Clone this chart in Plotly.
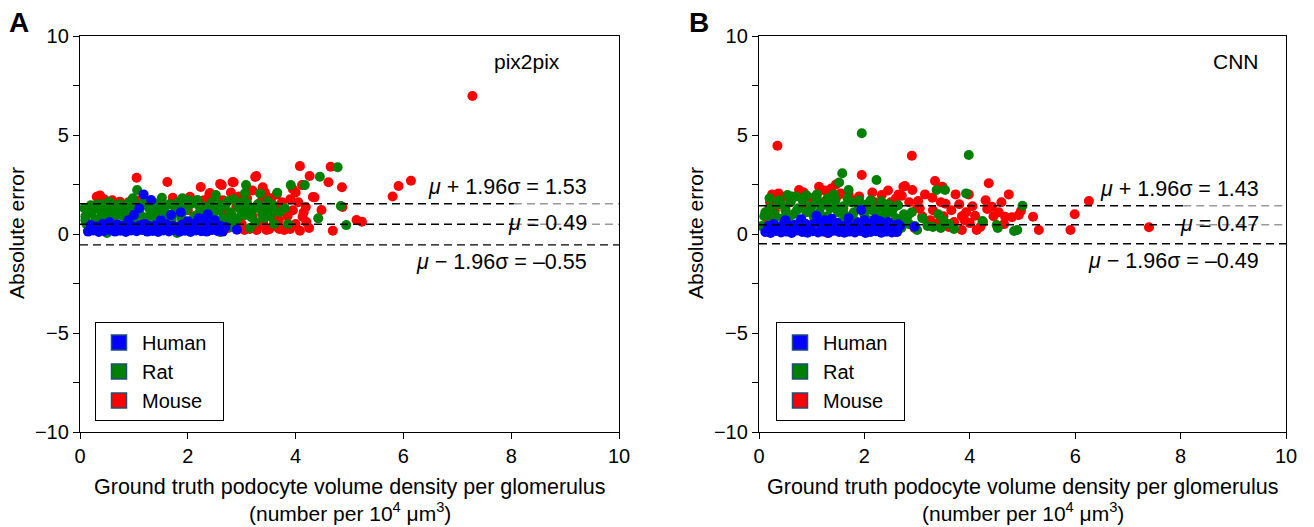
import plotly.graph_objects as go

# ---------------- data ----------------
species = ["Human", "Rat", "Mouse"]
colors = {"Human": "#0000ff", "Rat": "#008000", "Mouse": "#ff0000"}

# Panel A : pix2pix
a_human_x = [0.15,0.25,0.35,0.45,0.55,0.65,0.75,0.85,0.95,1.05,1.15,1.25,1.35,1.45,1.55,1.65,1.75,1.85,1.95,2.05,2.15,2.25,2.35,2.45,2.55,2.65,
             0.2,0.3,0.42,0.5,0.62,0.7,0.8,0.9,1.0,1.12,1.2,1.3,1.4,1.5,1.6,1.72,1.8,1.9,2.0,2.1,2.2,2.3,2.4,2.5,2.6,2.7,
             1.18,1.32,1.1,1.0,1.69,1.87,2.37,2.31,2.2,2.63,2.91,2.5,0.9,1.5,2.0,0.55]
a_human_y = [0.12,0.18,0.1,0.15,0.2,0.12,0.16,0.1,0.18,0.14,0.2,0.12,0.15,0.1,0.18,0.13,0.2,0.12,0.16,0.1,0.18,0.14,0.12,0.2,0.15,0.12,
             0.45,0.38,0.5,0.42,0.35,0.48,0.4,0.52,0.36,0.46,0.5,0.4,0.44,0.38,0.5,0.42,0.36,0.48,0.4,0.5,0.44,0.38,0.46,0.52,0.4,0.35,
             2.0,1.72,1.3,0.96,0.96,1.1,1.0,0.76,0.8,0.37,0.22,0.7,0.7,0.7,0.65,0.6]

a_rat_x = [0.08,0.1,0.12,0.2,0.22,0.28,0.32,0.38,0.42,0.48,0.54,0.58,0.62,0.7,0.75,0.8,0.86,0.92,0.98,1.06,1.0,1.1,1.15,1.22,1.28,1.35,1.42,1.52,1.48,1.58,
           1.62,1.7,1.76,1.82,1.9,1.88,1.96,2.05,2.1,2.18,2.22,2.3,2.38,2.45,2.52,2.58,2.65,2.7,2.78,2.85,2.9,2.95,3.0,3.06,3.08,3.05,3.12,3.2,3.25,3.3,
           3.34,3.38,3.45,3.52,3.58,3.66,3.6,3.7,3.86,3.91,3.8,4.17,4.42,4.45,4.78,4.84,4.94,0.3,0.7,1.2,1.6,2.0,2.4,2.8,3.15,0.15,0.5,1.8,2.6,
           0.1,0.4,0.9,1.4,1.9,2.3,2.75,3.4,0.6,1.3,2.15,3.0,
           0.18,0.35,0.52,0.68,0.84,1.02,1.18,1.33,1.55,1.72,1.92,2.12,2.28,2.48,2.62,2.82,3.02,3.18,3.36,3.55,
           0.26,0.44,0.64,0.9,1.08,1.26,1.44,1.66,1.84,2.02,2.2,2.42,2.56,2.74,2.92,3.1,3.28,3.48]
a_rat_y = [1.3,0.9,0.5,1.45,1.1,0.7,1.5,1.2,0.85,1.4,1.63,1.0,0.6,1.3,1.5,0.9,1.15,1.45,1.8,2.22,0.75,1.05,1.55,0.6,1.3,0.9,1.2,1.83,0.5,1.4,
           1.0,0.7,1.35,1.6,1.8,0.85,1.2,1.5,0.6,1.72,1.1,1.4,0.9,1.6,1.97,1.2,0.8,1.5,1.1,1.75,0.7,1.3,1.6,2.05,2.47,0.95,1.4,1.2,0.6,1.5,
           2.05,1.0,1.3,0.9,1.45,2.08,0.5,1.1,0.5,2.47,1.3,2.47,0.79,2.89,3.37,1.41,0.45,0.3,0.25,0.2,0.25,0.3,0.2,0.35,0.3,0.15,0.05,0.05,0.1,
           0.7,1.0,0.95,1.0,0.65,0.75,0.6,0.8,1.1,0.95,0.9,1.0,
           1.05,0.75,1.2,0.95,1.3,1.1,0.85,1.45,1.15,1.0,1.3,0.9,1.2,1.05,1.35,0.95,1.15,0.85,1.25,1.1,
           1.4,1.5,1.45,1.55,1.35,1.6,1.55,1.5,1.4,1.7,1.45,1.3,1.5,1.65,1.45,1.55,1.4,1.65]

a_mouse_x = [0.31,0.37,0.45,0.74,0.6,1.05,1.41,1.62,1.72,2.04,2.24,2.4,2.41,2.6,2.63,2.83,2.85,3.27,3.25,3.39,3.43,3.52,3.51,3.46,3.28,3.69,3.71,3.79,3.9,3.95,
             4.08,4.12,4.13,4.08,4.19,4.26,4.32,4.35,4.48,4.61,4.65,4.69,4.86,4.87,5.13,5.23,5.8,5.91,6.14,7.28,
             2.7,2.9,3.0,3.1,3.2,3.35,3.4,3.55,3.6,3.65,3.75,3.85,3.95,4.0,4.05,2.55,2.75,3.05,3.15,3.7,3.9,4.2,4.25,
             0.5,1.3,2.0,2.2,1.9,0.9,1.5,2.3,2.5,1.1,
             2.65,2.95,3.2,3.45,3.65,3.85,4.0,4.15,3.3,3.6,2.8,3.05]
a_mouse_y = [1.88,1.95,1.75,1.63,1.7,2.84,1.43,2.63,1.83,1.88,2.37,2.0,2.07,2.53,2.47,2.63,2.61,2.93,2.88,2.36,2.09,1.21,0.24,0.2,0.2,0.71,1.46,0.2,1.75,2.26,
             3.43,2.47,0.87,0.17,1.36,2.93,1.87,1.85,1.21,2.61,3.4,0.17,2.36,1.36,0.71,0.62,1.89,2.42,2.69,6.97,
             1.0,1.4,0.5,1.8,0.9,1.6,0.6,1.8,1.1,0.35,1.6,0.9,1.2,0.5,1.6,0.2,0.3,0.2,0.25,0.25,0.25,0.6,0.3,
             1.3,1.5,1.2,0.2,0.3,1.6,1.6,1.7,1.3,1.7,
             1.7,1.9,2.2,1.9,2.0,1.0,2.1,1.1,0.4,0.7,2.1,1.25]

# Panel B : CNN
b_human_x = [0.12,0.22,0.32,0.42,0.52,0.62,0.72,0.82,0.92,1.02,1.12,1.22,1.32,1.42,1.52,1.62,1.72,1.82,1.92,2.02,2.12,2.22,2.32,2.42,2.52,2.62,
             0.18,0.28,0.38,0.48,0.58,0.68,0.78,0.88,0.98,1.08,1.18,1.28,1.38,1.48,1.58,1.68,1.78,1.88,1.98,2.08,2.18,2.28,2.38,2.48,2.58,2.68,
             1.94,1.09,1.38,1.7,2.0,2.2,2.45,0.5,0.8,2.64,2.95,1.25,2.3]
b_human_y = [0.1,0.05,0.15,0.08,0.12,0.05,0.18,0.1,0.06,0.14,0.08,0.12,0.05,0.16,0.1,0.06,0.12,0.08,0.15,0.05,0.1,0.14,0.06,0.12,0.08,0.1,
             0.4,0.5,0.35,0.55,0.42,0.48,0.36,0.52,0.44,0.6,0.38,0.5,0.45,0.56,0.4,0.48,0.35,0.58,0.42,0.5,0.46,0.55,0.38,0.5,0.44,0.4,
             1.21,0.92,0.77,0.8,0.7,0.75,0.6,0.7,0.75,0.49,0.37,0.7,0.65]

b_rat_x = [1.95,1.58,1.52,2.23,0.54,0.7,0.9,1.1,1.3,1.7,1.9,2.1,3.98,3.37,3.53,3.93,5.0,4.24,4.51,4.53,4.84,4.9,3.4,3.1,3.2,3.45,3.6,3.7,2.8,2.9,
           0.05,0.1,0.15,0.2,0.25,0.3,0.35,0.4,0.45,0.5,0.55,0.6,0.65,0.7,0.75,0.8,0.85,0.9,0.95,1.0,1.05,1.1,1.15,1.2,1.25,1.3,1.35,1.4,1.45,1.5,
           1.55,1.6,1.65,1.7,1.75,1.8,1.85,1.9,1.95,2.0,2.05,2.1,2.15,2.2,2.25,2.3,2.35,2.4,2.5,2.55,2.6,2.7,2.75,2.85,3.0,3.3,3.5,
           0.12,0.28,0.42,0.58,0.72,0.88,1.02,1.18,1.32,1.48,1.62,1.78,1.92,2.08,2.22,2.38,2.52,2.68,2.82,2.96,
           0.2,0.38,0.62,0.82,1.08,1.28,1.42,1.68,1.88,2.12,2.32,2.46,2.64]
b_rat_y = [5.09,3.07,2.6,2.73,1.97,1.9,1.95,2.0,1.8,2.22,1.7,1.5,3.99,2.22,2.22,2.05,1.43,0.66,0.45,0.3,0.15,0.2,1.0,0.8,0.4,0.3,0.5,0.25,0.6,1.1,
           0.4,0.9,0.2,1.3,0.6,1.0,1.5,0.3,0.8,1.2,0.5,1.6,1.0,0.3,1.3,0.7,1.6,1.1,0.4,1.4,0.8,1.7,1.1,0.5,1.5,0.9,1.3,0.3,1.7,1.1,
           0.6,1.4,0.9,0.4,1.6,1.1,0.6,1.3,0.2,1.0,1.5,0.5,1.2,0.3,0.9,1.4,0.6,1.1,0.4,1.3,0.8,0.3,1.0,0.5,0.2,0.35,0.7,
           1.1,0.7,1.5,0.9,1.2,0.5,1.0,1.4,0.7,1.3,1.0,0.8,1.5,0.7,1.2,0.9,1.1,0.6,0.9,0.4,
           1.8,1.7,1.9,1.75,1.85,1.6,2.0,1.8,1.55,1.7,1.65,1.5,1.45]

b_mouse_x = [0.35,1.95,1.14,0.76,0.37,0.21,0.15,1.37,1.46,1.5,1.8,2.33,2.74,2.6,2.5,2.9,3.34,2.77,2.91,3.48,3.73,4.36,4.74,3.98,2.71,3.02,3.29,3.54,4.42,4.33,
             3.93,4.1,4.67,4.8,4.93,4.97,5.2,5.31,4.13,4.2,3.85,3.7,3.6,3.4,3.2,6.26,5.99,5.91,7.4,0.5,0.9,1.2,1.6,2.0,2.2,2.4,0.3,1.0,1.7,0.6,
             3.0,3.1,3.3,3.5,3.8,3.9,2.95,2.6,1.3,2.0,0.9,4.0,4.55,
             0.25,0.45,0.85,1.25,1.55,1.9,2.15,2.45,2.65,2.85,3.05,3.25,3.45,3.65,3.85,4.05,4.25,4.45,4.65,3.15,3.6,4.3,4.6]
b_mouse_y = [4.46,2.98,2.39,2.22,2.05,1.6,0.8,2.3,2.5,1.95,1.7,1.97,2.39,1.8,1.6,3.95,2.68,2.42,2.22,2.39,2.0,2.56,2.0,2.0,1.93,1.67,1.83,1.53,1.38,1.26,
             1.1,0.92,0.87,0.85,0.96,1.16,0.87,0.2,0.2,0.35,0.2,0.6,0.35,0.55,0.5,1.67,1.0,0.2,0.34,1.3,1.5,1.6,1.3,1.2,1.6,0.9,1.2,1.8,2.0,1.7,
             1.3,0.9,1.2,0.9,1.5,0.7,0.3,0.1,0.05,0.1,0.1,0.55,1.1,
             2.0,1.85,2.1,2.2,2.05,1.9,2.1,2.2,2.0,1.6,1.3,0.7,1.6,1.2,0.9,1.4,0.6,0.9,0.5,2.0,0.4,1.7,1.6]

# limits of agreement (as printed)
a_stats = {"upper": 1.53, "mean": 0.49, "lower": -0.55}
b_stats = {"upper": 1.43, "mean": 0.47, "lower": -0.49}
panel_titles = ["pix2pix", "CNN"]
panel_letters = ["A", "B"]

# ---------------- figure ----------------
W, H = 1314, 527
FONT = "Liberation Sans, Arial, Helvetica, sans-serif"
fig = go.Figure()

panels = [
    {"xa": "x", "ya": "y", "leg": "legend",
     "data": {"Mouse": (a_mouse_x, a_mouse_y), "Rat": (a_rat_x, a_rat_y), "Human": (a_human_x, a_human_y)},
     "stats": a_stats},
    {"xa": "x2", "ya": "y2", "leg": "legend2",
     "data": {"Mouse": (b_mouse_x, b_mouse_y), "Rat": (b_rat_x, b_rat_y), "Human": (b_human_x, b_human_y)},
     "stats": b_stats},
]

for p in panels:
    for sp in ["Mouse", "Rat", "Human"]:
        xs, ys = p["data"][sp]
        fig.add_trace(go.Scatter(x=xs, y=ys, mode="markers", xaxis=p["xa"], yaxis=p["ya"],
                                 marker=dict(color=colors[sp], size=10, line=dict(width=0)),
                                 showlegend=False, hoverinfo="x+y"))
    for sp in species:
        fig.add_trace(go.Scatter(x=[None], y=[None], mode="markers", xaxis=p["xa"], yaxis=p["ya"],
                                 name=sp + "\u00a0\u00a0", legend=p["leg"], legendgroup=p["leg"] + sp,
                                 marker=dict(color=colors[sp], size=15, symbol="square",
                                             line=dict(color="#1f4e79", width=1.5))))

x_dom = [[80 / W, 619 / W], [759 / W, 1286 / W]]
y_dom = [1 - 432 / H, 1 - 36 / H]

axis_common = dict(showgrid=False, zeroline=False, showline=True, linecolor="black", linewidth=1.3,
                   mirror=True, ticks="outside", ticklen=6, tickwidth=1.3, tickcolor="black",
                   automargin=False,
                   tickfont=dict(family=FONT, size=20, color="black"))
for i, suffix in enumerate(["", "2"]):
    fig.layout["xaxis" + suffix] = dict(axis_common, domain=x_dom[i], range=[0, 10],
                                        tick0=0, dtick=2, anchor="y" + suffix)
    fig.layout["yaxis" + suffix] = dict(axis_common, domain=y_dom, range=[-10, 10],
                                        tick0=0, dtick=5, anchor="x" + suffix,
                                        minor=dict(tick0=0, dtick=2.5, ticks="outside", ticklen=6,
                                                   tickwidth=1.3, tickcolor="black", showgrid=False))

shapes, annots = [], []
xcenters = [349.5, 1022.5]
ytitle_x = [16, 695]
letter_x = [19, 699]
label_right = [9.45, 9.52]
for i, p in enumerate(panels):
    st = p["stats"]
    xr, yr = p["xa"], p["ya"]
    for key in ["upper", "mean"]:
        shapes.append(dict(type="line", xref=xr, yref=yr, x0=0, x1=8.05, y0=st[key], y1=st[key],
                           line=dict(color="black", width=1.4, dash="8px,5px")))
        shapes.append(dict(type="line", xref=xr, yref=yr, x0=8.05, x1=10, y0=st[key], y1=st[key],
                           line=dict(color="#9a9a9a", width=1.4, dash="8px,5px")))
    shapes.append(dict(type="line", xref=xr, yref=yr, x0=0, x1=10, y0=st["lower"], y1=st["lower"],
                       line=dict(color="black", width=1.4, dash="8px,5px")))

    def fmt(v):
        return ("\u2013" if v < 0 else "") + f"{abs(v):.2f}"

    lab_font = dict(family=FONT, size=21.5, color="black")
    annots.append(dict(xref=xr, yref=yr, x=label_right[i], y=st["upper"] + 0.84, xanchor="right", yanchor="middle",
                       text=f"<i>\u03bc</i> + 1.96\u03c3 = {fmt(st['upper'])}", showarrow=False, font=lab_font))
    annots.append(dict(xref=xr, yref=yr, x=label_right[i], y=st["mean"] + 0.05, xanchor="right", yanchor="middle",
                       text=f"<i>\u03bc</i> = {fmt(st['mean'])}", showarrow=False, font=lab_font))
    annots.append(dict(xref=xr, yref=yr, x=label_right[i], y=st["lower"] - 0.88, xanchor="right", yanchor="middle",
                       text=f"<i>\u03bc</i> \u2212 1.96\u03c3 = {fmt(st['lower'])}", showarrow=False, font=lab_font))
    annots.append(dict(xref=xr, yref=yr, x=label_right[i] if i == 1 else 8.95, y=8.7, xanchor="right", yanchor="middle",
                       text=panel_titles[i], showarrow=False, font=dict(family=FONT, size=21, color="black")))
    # panel letter
    annots.append(dict(xref="paper", yref="paper", x=letter_x[i] / W, y=1 - 22 / H, xanchor="center", yanchor="middle",
                       text=f"<b>{panel_letters[i]}</b>", showarrow=False,
                       font=dict(family=FONT, size=28, color="black")))
    # y title
    annots.append(dict(xref="paper", yref="paper", x=ytitle_x[i] / W, y=1 - 233 / H, xanchor="center", yanchor="middle",
                       text="Absolute error", textangle=-90, showarrow=False,
                       font=dict(family=FONT, size=21, color="black")))
    # x title (two lines)
    annots.append(dict(xref="paper", yref="paper", x=xcenters[i] / W, y=1 - 501 / H, xanchor="center", yanchor="bottom",
                       text="Ground truth podocyte volume density per glomerulus", showarrow=False,
                       font=dict(family=FONT, size=21.5, color="black")))
    annots.append(dict(xref="paper", yref="paper", x=xcenters[i] / W, y=0.0, xanchor="center", yanchor="bottom",
                       text="(number per 10<sup>4</sup> \u03bcm<sup>3</sup>)", showarrow=False,
                       font=dict(family=FONT, size=21, color="black")))

legend_common = dict(bgcolor="white", bordercolor="black", borderwidth=1, xanchor="left", yanchor="top",
                     font=dict(family=FONT, size=20, color="black"), tracegroupgap=0,
                     itemsizing="trace", itemwidth=36, orientation="v")
fig.update_layout(
    width=W, height=H, margin=dict(l=0, r=0, t=0, b=0),
    paper_bgcolor="white", plot_bgcolor="white",
    shapes=shapes, annotations=annots,
    legend=dict(legend_common, x=95 / W, y=1 - 322 / H),
    legend2=dict(legend_common, x=776 / W, y=1 - 322 / H),
    font=dict(family=FONT, color="black"),
)

fig.write_html("out.html", config={"displayModeBar": False},
               post_script="document.body.style.margin='0px';document.body.style.padding='0px';")
